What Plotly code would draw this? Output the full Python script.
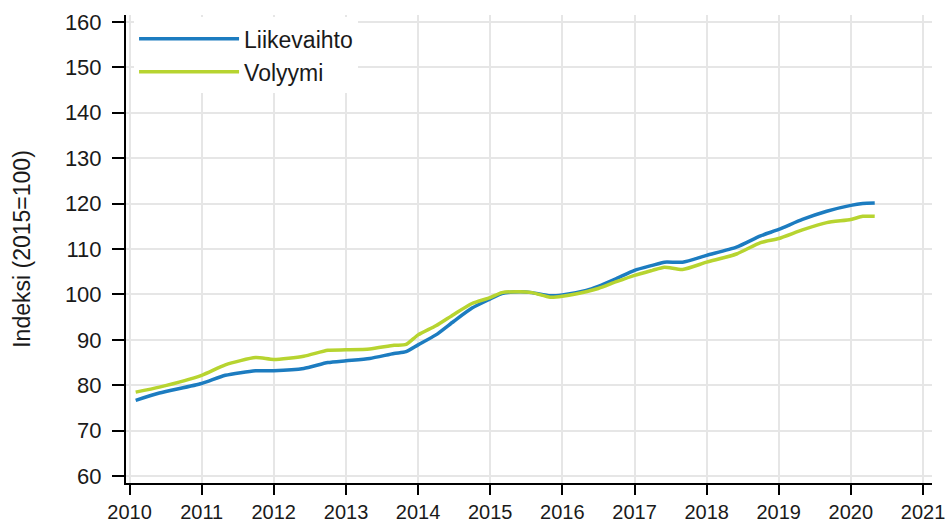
import plotly.graph_objects as go

dates = ["2010-02-01", "2010-06-01", "2011-01-01", "2011-05-01", "2011-10-01",
         "2012-01-01", "2012-06-01", "2012-10-01", "2013-01-01", "2013-05-01",
         "2013-09-01", "2013-11-01", "2014-01-01", "2014-04-01", "2014-07-01",
         "2014-10-01", "2015-01-01", "2015-03-01", "2015-06-01", "2015-08-01",
         "2015-11-01", "2016-01-01", "2016-05-01", "2016-07-01", "2016-10-01",
         "2017-01-01", "2017-04-01", "2017-06-01", "2017-09-01", "2018-01-01",
         "2018-06-01", "2018-10-01", "2019-01-01", "2019-05-01", "2019-09-01",
         "2020-01-01", "2020-03-01", "2020-05-01"]

liikevaihto = [76.7, 78.3, 80.4, 82.2, 83.2,
               83.2, 83.7, 85.0, 85.4, 85.9,
               87.0, 87.4, 88.9, 91.1, 94.1,
               97.0, 99.0, 100.2, 100.6, 100.4,
               99.7, 99.9, 100.9, 101.8, 103.5,
               105.3, 106.4, 107.1, 107.1, 108.6,
               110.4, 112.9, 114.3, 116.5, 118.3,
               119.6, 120.0, 120.1]

volyymi = [78.5, 79.6, 82.2, 84.5, 86.1,
           85.7, 86.4, 87.7, 87.8, 88.0,
           88.8, 89.0, 91.1, 93.1, 95.6,
           98.0, 99.3, 100.4, 100.6, 100.4,
           99.4, 99.6, 100.6, 101.3, 102.8,
           104.2, 105.3, 106.0, 105.5, 107.1,
           108.9, 111.4, 112.3, 114.2, 115.8,
           116.5, 117.2, 117.2]

y_ticks = [60, 70, 80, 90, 100, 110, 120, 130, 140, 150, 160]
x_tick_labels = [str(y) for y in range(2010, 2022)]
x_tick_vals = [f"{y}-01-01" for y in range(2010, 2022)]

FONT = "Liberation Sans, Arial, sans-serif"
BLUE = "#1c7cc0"
GREEN = "#b7d430"
TEXT = "#1a1a1a"

fig = go.Figure()
fig.add_trace(go.Scatter(x=dates, y=liikevaihto, name="Liikevaihto", mode="lines",
                         line=dict(color=BLUE, width=3.5, shape="spline", smoothing=0.6)))
fig.add_trace(go.Scatter(x=dates, y=volyymi, name="Volyymi", mode="lines",
                         line=dict(color=GREEN, width=3.5, shape="spline", smoothing=0.6)))

fig.update_layout(
    width=952, height=527,
    margin=dict(l=126, r=20, t=15, b=44),
    paper_bgcolor="white", plot_bgcolor="white",
    font=dict(family=FONT, color=TEXT),
    showlegend=True,
    legend=dict(x=0.01, y=0.995, xanchor="left", yanchor="top",
                bgcolor="white", font=dict(size=23, family=FONT, color=TEXT),
                itemwidth=100, tracegroupgap=0),
    xaxis=dict(type="date", range=["2009-12-14", "2021-02-15"], automargin=False,
               tickmode="array", tickvals=x_tick_vals, ticktext=x_tick_labels,
               showgrid=True, gridcolor="#e6e6e6", gridwidth=2,
               showline=True, linecolor="black", linewidth=2,
               ticks="outside", ticklen=10, tickwidth=2, tickcolor="black",
               tickfont=dict(size=20, family="Liberation Sans Narrow, " + FONT),
               zeroline=False),
    yaxis=dict(range=[58.5, 161.5], tickmode="array", tickvals=y_ticks, automargin=False,
               showgrid=True, gridcolor="#e6e6e6", gridwidth=2,
               showline=True, linecolor="black", linewidth=2,
               ticks="outside", ticklen=12, tickwidth=2, tickcolor="black",
               ticklabelstandoff=6,
               tickfont=dict(size=22),
               title=dict(text="Indeksi (2015=100)", font=dict(size=23), standoff=28),
               zeroline=False),
)

fig.write_html("out.html", config={"displayModeBar": False},
               post_script="document.body.style.margin='0';")
